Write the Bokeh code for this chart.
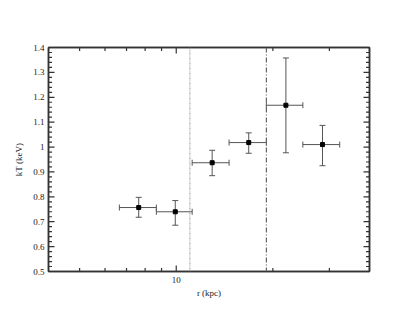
import math
from bokeh.plotting import figure
from bokeh.models import (ColumnDataSource, Whisker, TeeHead, FixedTicker, LogAxis,
                          LinearAxis, Span, PrintfTickFormatter, Range1d)
from bokeh.embed import file_html
from bokeh.resources import INLINE

# data
r_kpc = [7.64, 9.93, 12.94, 16.82, 21.96, 28.55]
r_lo = [6.65, 8.67, 11.21, 14.61, 19.09, 24.8]
r_hi = [8.67, 11.21, 14.61, 19.09, 24.8, 32.3]
kT = [0.757, 0.740, 0.937, 1.018, 1.168, 1.010]
kT_lo = [0.718, 0.686, 0.885, 0.975, 0.977, 0.925]
kT_hi = [0.798, 0.785, 0.987, 1.057, 1.358, 1.087]
vlines = [11.03, 19.09]

x_range = [4, 40]
y_range = [0.5, 1.4]
x_major = [10]
x_minor = [4, 5, 6, 7, 8, 9, 20, 30, 40]
y_major = [0.5, 0.6, 0.7, 0.8, 0.9, 1.0, 1.1, 1.2, 1.3, 1.4]
y_labels = ["0.5", "0.6", "0.7", "0.8", "0.9", "1", "1.1", "1.2", "1.3", "1.4"]
y_minor = [round(0.5 + 0.02 * i, 2) for i in range(46)]

FONT = "Liberation Serif"
AX = "#333333"

src = ColumnDataSource(dict(x=r_kpc, xl=r_lo, xh=r_hi, y=kT, yl=kT_lo, yh=kT_hi))

p = figure(width=407, height=313, x_axis_type="log", output_backend="svg",
           toolbar_location=None, x_range=Range1d(*x_range), y_range=Range1d(*y_range),
           min_border_left=48, min_border_top=47, min_border_right=38, min_border_bottom=42)
p.grid.visible = False
p.outline_line_color = AX
p.outline_line_width = 1.5
p.background_fill_color = "white"
p.border_fill_color = "white"

def style(ax, labels=True):
    ax.axis_line_color = AX
    ax.axis_line_width = 1.5
    ax.major_tick_out = 0
    ax.minor_tick_out = 0
    ax.major_tick_in = 0
    ax.minor_tick_in = 0
    ax.major_tick_line_color = None
    ax.minor_tick_line_color = None
    ax.major_label_text_font = FONT
    ax.major_label_text_font_size = "9px"
    ax.major_label_text_color = "#222" if labels else None
    ax.axis_label_text_font = FONT
    ax.axis_label_text_font_size = "9px"
    ax.axis_label_text_font_style = "normal"
    ax.axis_label_text_color = "#222"

xb = p.xaxis[0]
xb.ticker = FixedTicker(ticks=x_major, minor_ticks=x_minor)
xb.formatter = PrintfTickFormatter(format="%d")
xb.axis_label = "r (kpc)"
style(xb)
xb.major_label_standoff = 5
xb.axis_label_standoff = 2

yl = p.yaxis[0]
yl.ticker = FixedTicker(ticks=y_major, minor_ticks=y_minor)
yl.major_label_overrides = {v: s for v, s in zip(y_major, y_labels)}
yl.axis_label = "kT (keV)"
style(yl)
yl.major_label_standoff = 4
yl.axis_label_standoff = 6

xt = LogAxis(ticker=FixedTicker(ticks=x_major, minor_ticks=x_minor),
             formatter=PrintfTickFormatter(format="%d"))
style(xt, labels=False)
p.add_layout(xt, "above")

yr = LinearAxis(ticker=FixedTicker(ticks=y_major, minor_ticks=y_minor))
style(yr, labels=False)
p.add_layout(yr, "right")

# inward tick marks: dash markers centred on the frame edges (half is clipped away)
def ticks(xs, ys, size, angle):
    p.scatter(x=xs, y=ys, marker="dash", size=size, angle=angle,
              line_color=AX, line_width=1.2)

x_min_only = [v for v in x_minor if v not in x_major]
y_min_only = [v for v in y_minor if v not in y_major]
for yv in y_range:
    ticks(x_major, [yv] * len(x_major), 12, math.pi / 2)
    ticks(x_min_only, [yv] * len(x_min_only), 7, math.pi / 2)
for xv in x_range:
    ticks([xv] * len(y_major), y_major, 12, 0)
    ticks([xv] * len(y_min_only), y_min_only, 7, 0)

# vertical reference lines
p.add_layout(Span(location=vlines[0], dimension="height", line_color="#9a9a9a",
                  line_width=1, line_dash="2 1 1 1"))
p.add_layout(Span(location=vlines[1], dimension="height", line_color="#666666",
                  line_width=1.2, line_dash="5 2 1 2"))

# error bars
EB = "#555555"
p.add_layout(Whisker(source=src, base="x", lower="yl", upper="yh", dimension="height",
                     line_color=EB, line_width=1,
                     upper_head=TeeHead(size=6, line_color=EB, line_width=1),
                     lower_head=TeeHead(size=6, line_color=EB, line_width=1)))
p.add_layout(Whisker(source=src, base="y", lower="xl", upper="xh", dimension="width",
                     line_color=EB, line_width=1,
                     upper_head=TeeHead(size=6, line_color=EB, line_width=1),
                     lower_head=TeeHead(size=6, line_color=EB, line_width=1)))

p.scatter("x", "y", source=src, marker="square", size=4, fill_color="black",
          line_color="black")

open("out.html", "w").write(file_html(p, INLINE))
